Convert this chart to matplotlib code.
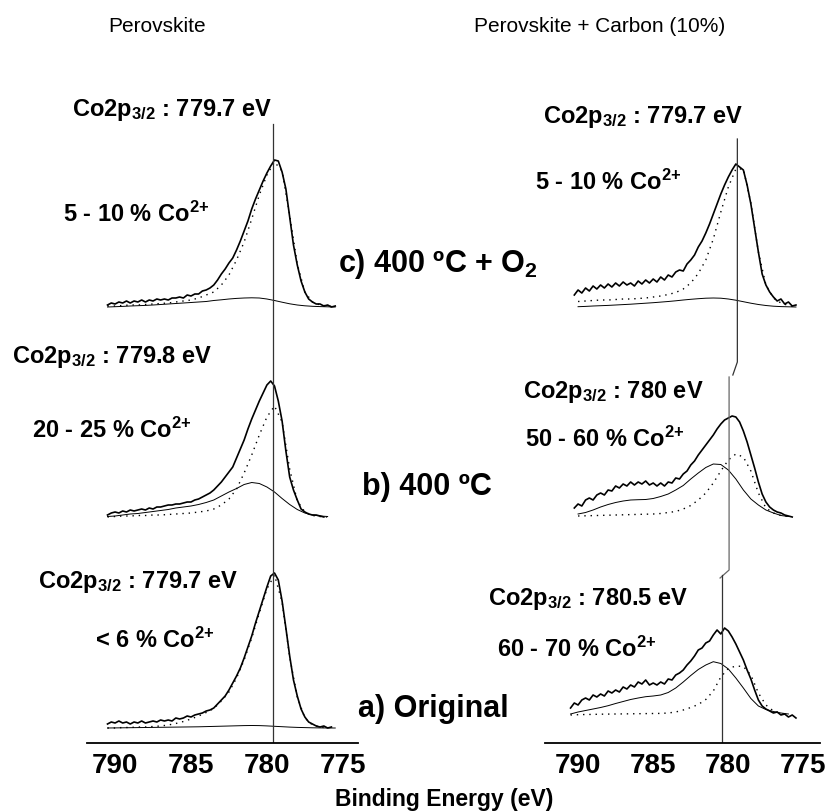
import numpy as np
import matplotlib
matplotlib.use("Agg")
import matplotlib.pyplot as plt

plt.rcParams['font.family'] = ['Liberation Sans', 'DejaVu Sans']
plt.rcParams['mathtext.default'] = 'regular'

nan = np.nan

# binding energy grids (eV)
e_raw = [790.5, 790.25, 790.0, 789.75, 789.5, 789.25, 789.0, 788.75, 788.5, 788.25,
         788.0, 787.75, 787.5, 787.25, 787.0, 786.75, 786.5, 786.25, 786.0, 785.75,
         785.5, 785.25, 785.0, 784.75, 784.5, 784.25, 784.0, 783.75, 783.5, 783.25,
         783.0, 782.75, 782.5, 782.25, 782.0, 781.75, 781.5, 781.25, 781.0, 780.75,
         780.5, 780.25, 780.0, 779.75, 779.5, 779.25, 779.0, 778.75, 778.5, 778.25,
         778.0, 777.75, 777.5, 777.25, 777.0, 776.75, 776.5, 776.25, 776.0, 775.75,
         775.5]
e_fit = [790.5, 790.0, 789.5, 789.0, 788.5, 788.0, 787.5, 787.0, 786.5, 786.0,
         785.5, 785.0, 784.5, 784.0, 783.5, 783.0, 782.5, 782.0, 781.5, 781.0,
         780.5, 780.0, 779.5, 779.0, 778.5, 778.0, 777.5, 777.0, 776.5, 776.0,
         775.5]

# ---- Perovskite (left column) ----
# c) 400 C + O2
pv_c_raw = [2, 4, 3, 5, 4, 6, 4, 6, 5, 7, 5, 7, 6, 8, 7, 8, 7, 9, 9, 10,
            9, 12, 11, 13, 13, 16, 17, 19, 22, 27, 33, 38, 44, 49, 57, 66, 76, 86, 98, 108,
            117, 126, 134, 141, 147, 146, 135, 118, 90, 62, 42, 26, 15, 8, 5, 3, 3, 1, 2, 0,
            1]
pv_c_co3 = [1, 1, 1.5, 2, 2, 2.5, 3, 3.5, 4, 5, 6, 7, 9, 12, 15, 22, 32, 47, 65, 88,
            112, 132, 145, 136, 92, 43, 15, 5, 2, 1, 0]
pv_c_co2 = [0, 0.3, 0.6, 1, 1.3, 1.6, 2, 2.5, 3, 3.5, 4, 4.5, 5, 5.5, 6.5, 7.2, 8, 8.6, 9, 9.2,
            9, 8, 6.5, 4.8, 3.2, 2, 1.2, 0.7, 0.4, 0.2, 0]
# b) 400 C
pv_b_raw = [2, 4, 5, 4, 6, 5, 7, 6, 7, 8, 7, 9, 8, 10, 10, 11, 12, 12, 13, 13,
            14, 15, 15, 17, 18, 20, 22, 24, 27, 31, 35, 40, 45, 50, 59, 68, 77, 88, 98, 107,
            116, 124, 132, 136, 131, 116, 96, 66, 40, 27, 17, 8, 5, 3, 2, 2, 1, 0, nan, nan,
            nan]
pv_b_co3 = [0, 0.5, 1, 1, 1.5, 1.5, 2, 2, 2.5, 3, 3.5, 4, 5, 6, 8, 12, 18, 28, 44, 62,
            82, 100, 111, 95, 48, 16, 5, 1.5, 0.5, 0, nan]
pv_b_co2 = [0.5, 1, 2, 3, 3.5, 4.5, 5.5, 6.5, 7.5, 9, 10, 11, 12.5, 14.5, 17, 21, 25, 28.5, 32.5, 34.5,
            33.5, 30, 25, 18.5, 12.5, 7.5, 4, 2, 1, 0.5, nan]
# a) Original
pv_a_raw = [4, 6, 5, 7, 5, 6, 4, 6, 5, 7, 5, 6, 7, 6, 8, 7, 8, 7, 10, 9,
            10, 12, 11, 13, 14, 15, 17, 18, 20, 24, 28, 32, 38, 45, 52, 60, 70, 81, 92, 105,
            117, 129, 141, 152, 155, 148, 127, 100, 72, 48, 32, 19, 11, 6, 4, 2, 1, 2, 0, 1,
            nan]
pv_a_co3 = [0, 0, 0.5, 0.5, 1, 1, 1.5, 2, 3, 4.5, 6.5, 9, 12, 15.5, 19.5, 27, 36, 50, 68, 90,
            115, 139, 153, 126, 71, 31, 10, 3, 1, 0, nan]
pv_a_co2 = [0, 0.1, 0.2, 0.3, 0.4, 0.5, 0.6, 0.7, 0.8, 0.9, 1.0, 1.1, 1.2, 1.4, 1.6, 1.8, 2.0, 2.2, 2.4, 2.5,
            2.4, 2.1, 1.7, 1.3, 0.9, 0.6, 0.4, 0.2, 0.1, 0, 0]

# ---- Perovskite + Carbon 10% (right column) ----
pc_c_raw = [nan, 12, 17, 14, 19, 16, 21, 18, 22, 19, 23, 20, 24, 21, 25, 22, 24, 21, 26, 23,
            27, 24, 28, 25, 30, 27, 32, 30, 35, 37, 36, 43, 47, 52, 60, 66, 74, 83, 93, 103,
            113, 122, 130, 137, 143, 140, 137, 122, 103, 79, 55, 33, 22, 15, 10, 6, 8, 3, 5, 1,
            2]
pc_c_co3 = [nan, 5.5, 6, 6.5, 7, 7, 7.5, 8, 8, 8.5, 9, 10, 11, 12.5, 14.5, 18, 24, 33.5, 47, 68,
            95, 120, 138, 138, 104, 55, 22, 9, 4, 1.5, 0.5]
pc_c_co2 = [nan, 0.3, 0.6, 1, 1.3, 1.6, 2, 2.4, 2.8, 3.3, 3.8, 4.3, 4.9, 5.5, 6.2, 7, 7.7, 8.3, 8.8, 9,
            8.8, 8, 6.8, 5.3, 3.8, 2.5, 1.5, 0.8, 0.4, 0.2, 0]
pc_b_raw = [nan, 9, 13, 11, 17, 19, 17, 22, 24, 22, 27, 26, 31, 29, 33, 31, 35, 32, 35, 33,
            36, 32, 34, 31, 34, 31, 35, 34, 39, 38, 43, 46, 52, 56, 62, 67, 72, 77, 82, 88,
            93, 97, 99, 101, 100, 95, 86, 75, 62, 49, 35, 23, 15, 10, 7, 5, 4, 2, 1, 0,
            nan]
pc_b_co3 = [nan, 1, 1.2, 1.4, 1.6, 1.8, 2, 2.2, 2.4, 2.6, 2.8, 3, 3.5, 4.5, 5.5, 8, 11.5, 17, 24, 34,
            46, 57, 63, 60, 46, 24, 9, 4, 1.5, 0.5, nan]
pc_b_co2 = [nan, 3, 4.5, 7, 10, 12.5, 14.5, 16, 17, 17.3, 17.5, 18.5, 20.5, 23, 27, 31.5, 38, 44, 49.5, 53,
            52.5, 47, 38, 27, 18, 12, 7, 4, 1.5, 0.5, nan]
pc_a_raw = [7, 12, 10, 15, 17, 15, 20, 18, 21, 19, 24, 22, 25, 23, 28, 26, 30, 28, 33, 31,
            35, 30, 32, 30, 33, 31, 36, 35, 40, 42, 45, 50, 54, 59, 65, 67, 72, 74, 80, 85,
            81, 87, 84, 78, 71, 63, 55, 45, 36, 25, 15, 9, 6, 4, 2, 3, 0, 1, -2, 0,
            -3]
pc_a_co3 = [0, 0.3, 0.5, 0.6, 0.8, 0.9, 1, 1.1, 1.2, 1.3, 1.4, 1.5, 1.6, 2, 3, 5, 7.5, 10.5, 15.5, 24,
            38, 46.5, 49, 48.5, 40, 22, 10, 4, 1.5, 0, nan]
pc_a_co2 = [1, 3, 4.5, 6, 7.5, 9.3, 11.5, 13.5, 15.5, 17, 18.3, 19, 20, 22.5, 27, 33, 39.5, 45.5, 50, 53.3,
            51.5, 46, 37, 27, 16.5, 9, 5.5, 3.5, 2, 1, nan]

left_sets = [(pv_c_raw, pv_c_co3, pv_c_co2), (pv_b_raw, pv_b_co3, pv_b_co2), (pv_a_raw, pv_a_co3, pv_a_co2)]
right_sets = [(pc_c_raw, pc_c_co3, pc_c_co2), (pc_b_raw, pc_b_co3, pc_b_co2), (pc_a_raw, pc_a_co3, pc_a_co2)]

left_peak = 779.6
right_peaks = [779.4, 779.95, 780.45]

sup = "Co$^{2{+}}$"
left_labels = ["Co2p$_{3/2}$ : 779.7 eV", "Co2p$_{3/2}$ : 779.8 eV", "Co2p$_{3/2}$ : 779.7 eV"]
left_frac = ["5 - 10 % " + sup, "20 - 25 % " + sup, "< 6 % " + sup]
right_labels = ["Co2p$_{3/2}$ : 779.7 eV", "Co2p$_{3/2}$ : 780 eV", "Co2p$_{3/2}$ : 780.5 eV"]
right_frac = ["5 - 10 % " + sup, "50 - 60 % " + sup, "60 - 70 % " + sup]
treatments = ["c) 400 ºC + O$_2$", "b) 400 ºC", "a) Original"]
ticks = [790, 785, 780, 775]

W, H = 830, 811
fig = plt.figure(figsize=(W / 100, H / 100), dpi=100)

def px(x, y):
    return x / W, 1 - y / H

ax_l = fig.add_axes([87 / W, 68 / H, 271 / W, 743 / H])
ax_r = fig.add_axes([545 / W, 68 / H, 275 / W, 743 / H])

# baselines of the stacked spectra (axis units = pixels above the energy axis)
left_off = [436, 226, 15]
right_off = [436, 226, 28]

def draw(ax, sets, offs):
    for (raw, co3, co2), off in zip(sets, offs):
        ax.plot(e_raw, np.array(raw, float) + off, color='black', lw=1.2)
        ax.plot(e_fit, np.array(co3, float) + off, color='black', lw=1.0, ls=(0, (1, 3.5)))
        ax.plot(e_fit, np.array(co2, float) + off, color='black', lw=0.7)

draw(ax_l, left_sets, left_off)
draw(ax_r, right_sets, right_off)

ax_l.plot([left_peak, left_peak], [0, 619], color='#333333', lw=0.9)
# right column: line segments joined by small kinks
ax_r.plot([right_peaks[0], right_peaks[0], 779.7], [604, 381, 368], color='#333333', lw=0.9)
ax_r.plot([right_peaks[1], right_peaks[1], 780.55], [366, 173, 165], color='#666666', lw=0.9)
ax_r.plot([right_peaks[2], right_peaks[2]], [168, 0], color='#333333', lw=0.9)

for ax, lim in [(ax_l, (791.85, 774.0)), (ax_r, (792.2, 773.9))]:
    ax.set_xlim(*lim)
    ax.set_ylim(0, 743)
    ax.patch.set_alpha(0)
    for s in ['top', 'left', 'right']:
        ax.spines[s].set_visible(False)
    ax.spines['bottom'].set_linewidth(1.3)
    ax.set_yticks([])
    ax.set_xticks(ticks)
    ax.tick_params(axis='x', length=0, pad=7, labelsize=20)
    for t in ax.get_xticklabels():
        t.set_fontweight('bold')

fig.text(*px(157, 27), "Perovskite", fontsize=15, ha='center', va='center')
fig.text(*px(600, 27), "Perovskite + Carbon (10%)", fontsize=15, ha='center', va='center')

lab_kw = dict(fontsize=17, fontweight='bold', ha='left', va='baseline')
for txt, (x, y) in zip(left_labels, [(72, 116), (12, 363), (38, 588)]):
    fig.text(*px(x, y), txt, **lab_kw)
for txt, (x, y) in zip(left_frac, [(63, 222), (32, 438), (95, 648)]):
    fig.text(*px(x, y), txt, **lab_kw)
for txt, (x, y) in zip(right_labels, [(543, 123), (523, 398), (488, 605)]):
    fig.text(*px(x, y), txt, **lab_kw)
for txt, (x, y) in zip(right_frac, [(535, 190), (525, 447), (497, 657)]):
    fig.text(*px(x, y), txt, **lab_kw)
for txt, (x, y) in zip(treatments, [(338, 272), (362, 495), (358, 717)]):
    fig.text(*px(x, y), txt, fontsize=22, fontweight='bold', ha='left', va='baseline')

fig.text(*px(444, 806), "Binding Energy (eV)", fontsize=16.5, fontweight='bold',
         ha='center', va='baseline')

fig.savefig("out.png", dpi=100)
